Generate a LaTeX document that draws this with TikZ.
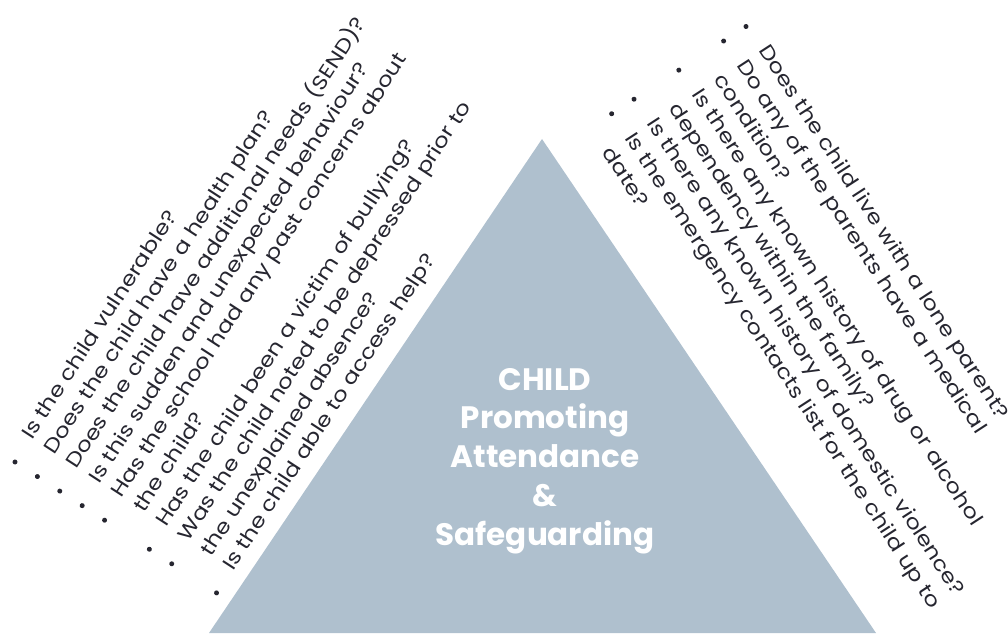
\documentclass[tikz,border=0pt]{standalone}
\usepackage{fontspec}
\setmainfont{Poppins}
\newfontfamily\qfont{Poppins}[FakeStretch=1.17]
\usepackage{tikz}
\usetikzlibrary{positioning}
\definecolor{trifill}{RGB}{175,192,206}
\definecolor{qtext}{RGB}{38,38,48}

\begin{document}
\begin{tikzpicture}[
  x=1pt, y=1pt,
  qline/.style={anchor=mid west, inner sep=0pt, text=qtext,
                font=\qfont\fontsize{20}{20}\selectfont},
  qdot/.style={circle, fill=qtext, inner sep=0pt, minimum size=5pt},
  ctitle/.style={anchor=base, inner sep=0pt, text=white,
                 font=\fontsize{31}{31}\selectfont\bfseries}
]
\useasboundingbox (0,0) rectangle (1008,633);

% centre triangle
\fill[trifill] (542,494) coordinate (apex) -- (876,0) coordinate (br)
  -- (209,0) coordinate (bl) -- cycle;

\foreach \t [count=\i from 0] in {CHILD, Promoting, Attendance, \&, Safeguarding}
  \node[ctitle] (c\i) at (545,243-38.75*\i) {\t};

% left side: questions about the child
\begin{scope}[shift={(15,171)}, rotate=57, transform shape]
  \foreach \t [count=\i from 0] in {Is the child vulnerable?,
      Does the child have a health plan?,
      Does the child have additional needs (SEND)?,
      Is this sudden and unexpected behaviour?,
      Has the school had any past concerns about,
      the child?,
      Has the child been a victim of bullying?,
      Was the child noted to be depressed prior to,
      the unexplained absence?,
      Is the child able to access help?}
    \node[qline] (lq\i) at (27,-26.7*\i) {\t};
  \foreach \i in {0,1,2,3,4,6,7,9}
    \node[qdot] (lb\i) at (0,-26.7*\i) {};
\end{scope}

% right side: questions about the family
\begin{scope}[shift={(746,606.5)}, rotate=-57, transform shape]
  \foreach \t [count=\i from 0] in {Does the child live with a lone parent?,
      Do any of the parents have a medical,
      condition?,
      Is there any known history of drug or alcohol,
      dependency within the family?,
      Is there any known history of domestic violence?,
      Is the emergency contacts list for the child up to,
      date?}
    \node[qline] (rq\i) at (27,-26.7*\i) {\t};
  \foreach \i in {0,1,3,5,6}
    \node[qdot] (rb\i) at (0,-26.7*\i) {};
\end{scope}
\end{tikzpicture}
\end{document}
